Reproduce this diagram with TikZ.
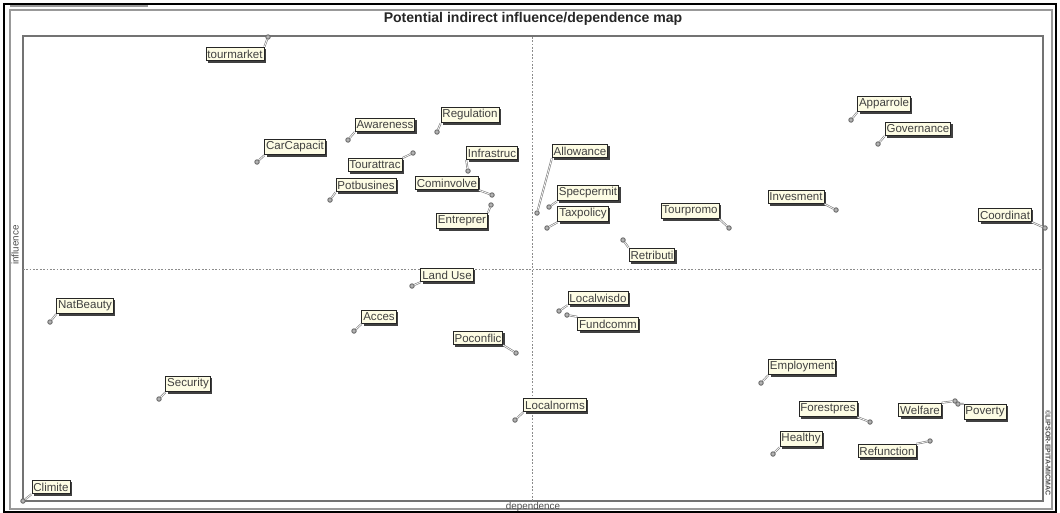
\documentclass[tikz,border=0pt]{standalone}
\usepackage{fontspec}
\setmainfont{Liberation Sans}
\usetikzlibrary{shadows}
\definecolor{cream}{HTML}{FDFCE4}

\begin{document}
\begin{tikzpicture}[x=0.025cm, y=-0.025cm,
  lbl/.style={draw=black!85, fill=cream, line width=0.6pt, inner xsep=1pt, inner ysep=1.8pt,
    font=\fontsize{8.2}{9}\selectfont, text=black!75,
    drop shadow={shadow xshift=1.4pt, shadow yshift=-1.4pt, fill=black!75, opacity=1}},
  dot/.style={circle, draw=black!60, fill=black!30, line width=0.6pt, inner sep=0pt, minimum size=3.2pt},
  lead/.style={draw=black!50, line width=0.45pt, double=white, double distance=0.5pt},
  axis/.style={draw=black!45, line width=0.5pt, dash pattern=on 1.2pt off 1.2pt}]
  \useasboundingbox (0,0) rectangle (1060,513);

  % window frames
  \draw[black, line width=1.2pt] (4,4) rectangle (1056,512);
  \draw[black!40, line width=1.5pt] (10,10) rectangle (1052,509);
  \draw[black!40, line width=1pt] (10,6) -- (148,6);
  \draw[black!55, line width=1.3pt] (23,36) rectangle (1043,501);

  % titles
  \node[font=\bfseries\fontsize{10}{11}\selectfont, text=black!85] (title) at (533,19) {Potential indirect influence/dependence map};
  \node[font=\fontsize{7}{8}\selectfont, text=black!70] (dep) at (533,507) {dependence};
  \node[font=\fontsize{7}{8}\selectfont, text=black!70, rotate=90] (infl) at (15,245) {influence};
  \node[font=\bfseries\fontsize{5}{6}\selectfont, text=black!70, rotate=-90] (copy) at (1048,453) {©LIPSOR-EPITA-MICMAC};

  % quadrant axes
  \coordinate (vtop) at (532,37);
  \coordinate (vbot) at (532,501);
  \coordinate (hleft) at (23,269);
  \coordinate (hright) at (1043,269);
  \draw[axis] (vtop) -- (vbot);
  \draw[axis] (hleft) -- (hright);

  % variables: name/text/box/point/anchor
  \foreach \n/\t/\bx/\by/\px/\py/\a in {
    tourmkt/tourmarket/235/54/268/37/north east,
    carcap/CarCapacit/295/147/257/162/south west,
    aware/Awareness/385/125/348/140/south west,
    regul/Regulation/470/115/437/132/south west,
    attrac/Tourattrac/375/165/413/153/north east,
    infra/Infrastruc/492/153/468/171/south west,
    potbus/Potbusines/366/185/330/200/south west,
    cominv/Cominvolve/447/183/492/195/south east,
    entre/Entreprer/462/221/491/205/north east,
    allow/Allowance/580/151/537/213/south west,
    specp/Specpermit/588/193/549/207/south west,
    taxp/Taxpolicy/583/214/547/228/south west,
    promo/Tourpromo/690/211/729/228/south east,
    retri/Retributi/652/255/623/240/north west,
    inves/Invesment/796/197/836/210/south east,
    appar/Apparrole/884/104/851/120/south west,
    gover/Governance/918/129/878/144/south west,
    coord/Coordinat/1005/215/1045/228/south east,
    beauty/NatBeauty/85/306/50/322/south west,
    secur/Security/188/384/159/399/south west,
    clim/Climite/51/487/23/501/south west,
    land/Land Use/447/275/412/286/south west,
    acces/Acces/379/317/354/331/south west,
    pocon/Poconflic/478/338/516/353/south east,
    lwisdo/Localwisdo/598/298/559/311/south west,
    fund/Fundcomm/608/324/567/315/north west,
    lnorm/Localnorms/555/405/515/420/south west,
    employ/Employment/802/367/761/383/south west,
    forest/Forestpres/828/409/870/422/south east,
    welf/Welfare/920/410/955/401/north east,
    pover/Poverty/985/412/958/404/north west,
    health/Healthy/801/439/773/454/south west,
    refun/Refunction/887/451/930/441/north east}{
    \node[lbl] (\n) at (\bx,\by) {\t};
    \node[dot] (\n-pt) at (\px,\py) {};
    \draw[lead] (\n-pt) -- (\n.\a);
  }
\end{tikzpicture}
\end{document}
